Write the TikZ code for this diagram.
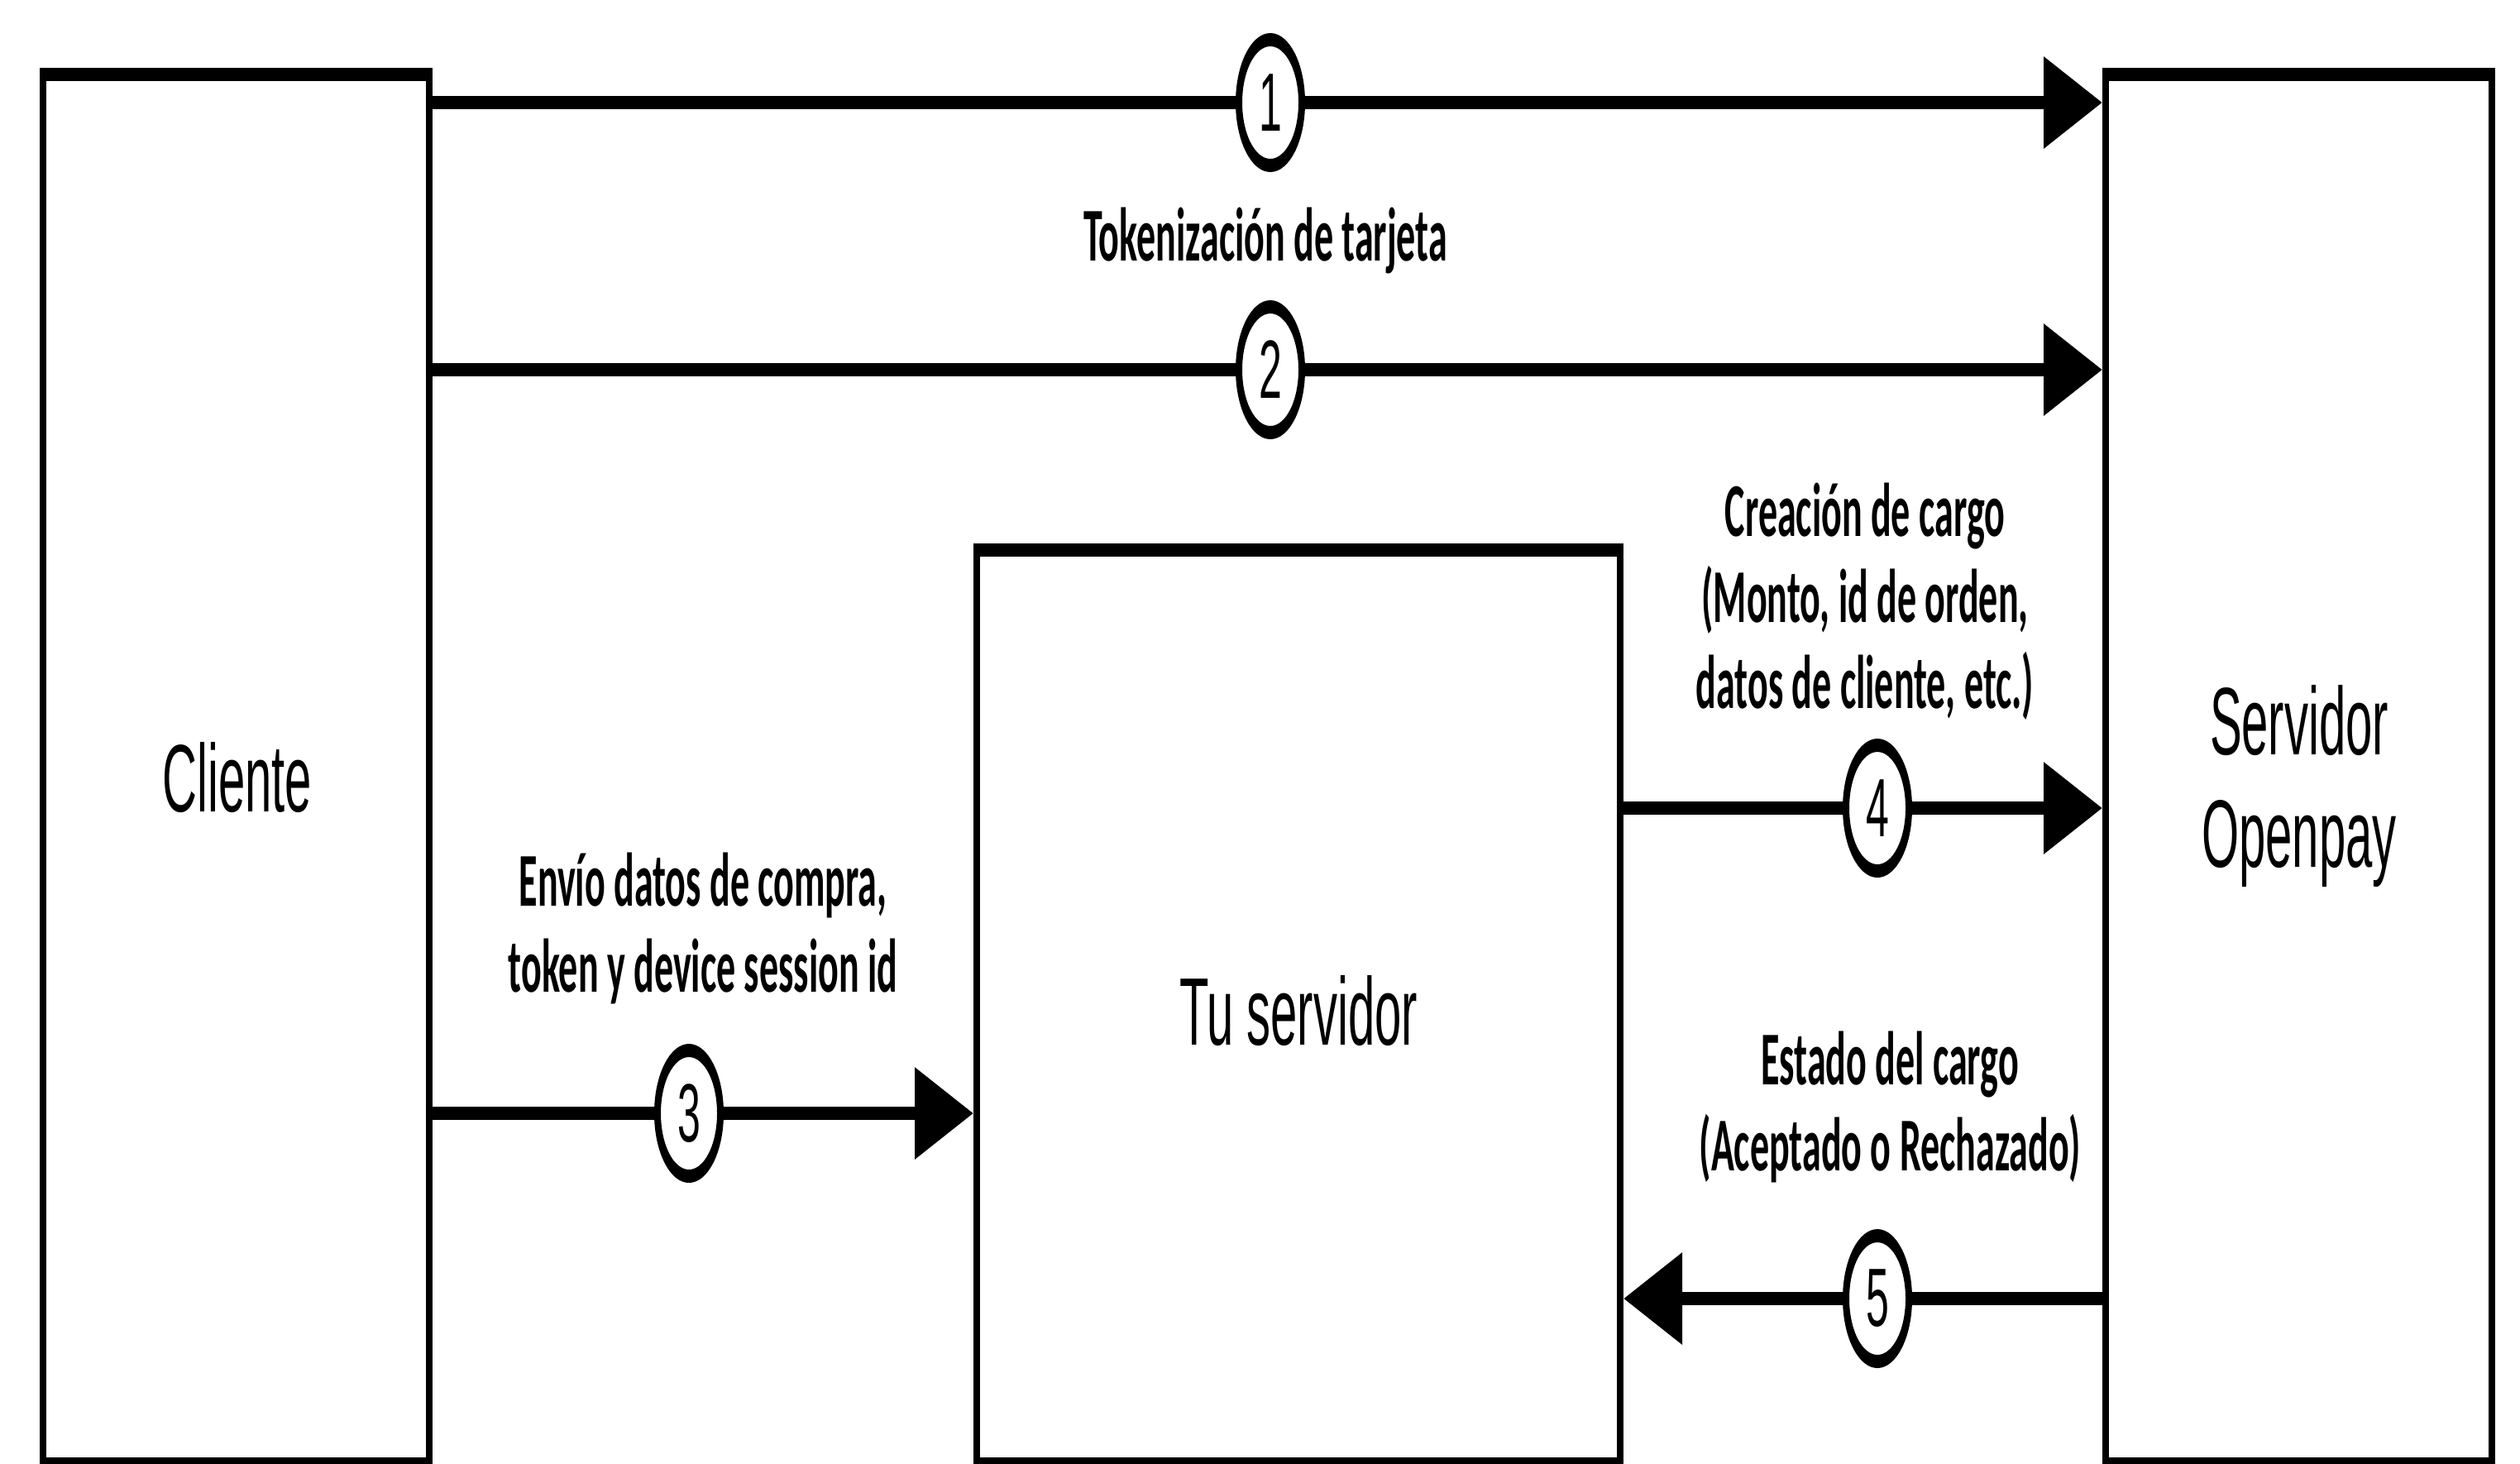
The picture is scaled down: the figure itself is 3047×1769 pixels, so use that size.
\documentclass[tikz,border=0pt]{standalone}
\usepackage{fontspec}
\setmainfont{Liberation Sans}
\newfontfamily\lblfont{Carlito}
\usetikzlibrary{arrows.meta}
\begin{document}
\begin{tikzpicture}[x=0.25pt,y=0.25pt,
  box/.style={draw, line width=2pt, rectangle, inner sep=0pt},
  boxtxt/.style={align=center, inner sep=0pt,
    font=\fontsize{14.5pt}{17pt}\selectfont},
  num/.style={draw, circle, fill=white, line width=2pt, minimum size=19pt,
    inner sep=0pt, font=\fontsize{12.5pt}{15pt}\selectfont},
  lbl/.style={font=\lblfont\bfseries\fontsize{11.5pt}{13pt}\selectfont,
    align=center, inner sep=0pt},
  seg/.style={line width=2pt},
  flow/.style={line width=2pt, -{Triangle[length=17.75pt,width=13.4pt]}}]
\fill[white] (0,0) rectangle (3047,-1769);
\useasboundingbox (0,0) rectangle (3047,-1769);
\begin{scope}[transform canvas={yscale=2}]
  % boxes
  \node[box, minimum width=116.75pt, minimum height=210pt] (cli) at (285.5,-465) {};
  \node[box, minimum width=116.75pt, minimum height=210pt] (opp) at (2779.5,-465) {};
  \node[box, minimum width=194.5pt, minimum height=138.125pt] (srv) at (1570,-608.75) {};
  \node[boxtxt] (clit) at (287,-470) {Cliente};
  \node[boxtxt] (oppt) at (2780,-475) {Servidor\\Openpay};
  \node[boxtxt] (srvt) at (1570,-611) {Tu servidor};
  % numbered markers
  \node[num] (c1) at (1536,-62) {1};
  \node[num] (c2) at (1536,-223.5) {2};
  \node[num] (c3) at (833,-673) {3};
  \node[num] (c4) at (2270,-488.5) {4};
  \node[num] (c5) at (2270,-785) {5};
  % connectors
  \draw[seg] (cli.east |- c1) -- (c1.west);
  \draw[flow] (c1.east) -- (opp.west |- c1);
  \draw[seg] (cli.east |- c2) -- (c2.west);
  \draw[flow] (c2.east) -- (opp.west |- c2);
  \draw[seg] (cli.east |- c3) -- (c3.west);
  \draw[flow] (c3.east) -- (srv.west |- c3);
  \draw[seg] (srv.east |- c4) -- (c4.west);
  \draw[flow] (c4.east) -- (opp.west |- c4);
  \draw[seg] (opp.west |- c5) -- (c5.east);
  \draw[flow] (c5.west) -- (srv.east |- c5);
  % labels
  \node[lbl, anchor=base] (t1) at (1530,-157.5) {Tokenización de tarjeta};
  \node[lbl] (t3) at (850,-561) {Envío datos de compra,\\token y device session id};
  \node[lbl] (t4) at (2255,-363.5) {Creación de cargo\\(Monto, id de orden,\\datos de cliente, etc.)};
  \node[lbl] (t5) at (2285,-669) {Estado del cargo\\(Aceptado o Rechazado)};
\end{scope}
\end{tikzpicture}
\end{document}
